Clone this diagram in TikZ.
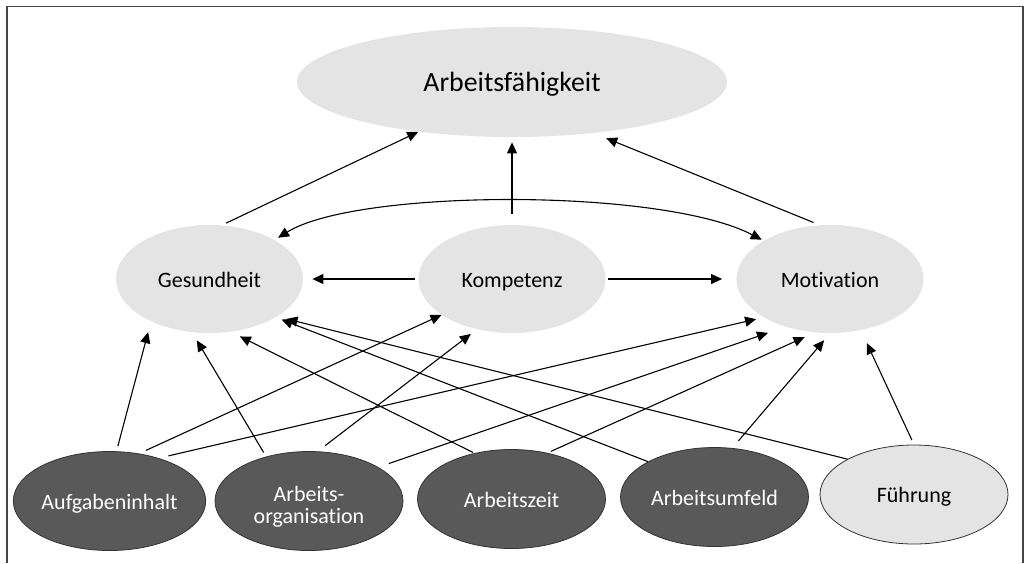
\documentclass[tikz,border=0pt]{standalone}
\usepackage{fontspec}
\setmainfont{Carlito}[Ligatures={NoCommon}]
\usetikzlibrary{shapes.geometric,arrows.meta}
\definecolor{ellLight}{RGB}{228,228,228}
\definecolor{ellDark}{RGB}{89,89,89}
\definecolor{frameGray}{RGB}{70,70,70}

\begin{document}
\begin{tikzpicture}[x=0.5pt,y=-0.5pt,
    >={Triangle[length=5.5pt,width=5pt]},
    wfEll/.style={ellipse,inner sep=0pt,fill=ellLight,align=center,font=\fontsize{11}{10.8}\selectfont,
        text height=10.8pt,text depth=2.4pt},
    wfTop/.style={wfEll,minimum width=215pt,minimum height=55pt,font=\fontsize{13.9}{16}\selectfont,
        text height=12.7pt,text depth=3pt},
    wfMid/.style={wfEll,minimum width=93.5pt,minimum height=54pt},
    wfLow/.style={wfEll,minimum width=94pt,minimum height=49.5pt,draw=black!80,line width=0.4pt},
    wfDark/.style={wfLow,fill=ellDark,text=white},
    wfArr/.style={->,line width=0.55pt},
]
\useasboundingbox (0,0) rectangle (1026,563);
% Rahmen (unten offen)
\draw[frameGray,line width=0.75pt] (7,563) -- (7,6.5) -- (1023,6.5) -- (1023,563);
% Zielgroesse
\node[wfTop] (arb) at (512,82) {Arbeitsfähigkeit};
% Individuelle Ebene
\node[wfMid] (ges) at (209.5,279) {Gesundheit};
\node[wfMid] (kom) at (512,279) {Kompetenz};
\node[wfMid] (mot) at (830,279) {Motivation};
% Arbeitsbedingungen
\node[wfDark] (aufg) at (109.5,501) {Aufgabeninhalt};
\node[wfDark,text height=24.7pt,text depth=2.4pt] (aorg) at (309,501) {Arbeits-\\organisation};
\node[wfDark] (azeit) at (511.5,499) {Arbeitszeit};
\node[wfDark] (aumf) at (714.5,497) {Arbeitsumfeld};
\node[wfLow] (fuehr) at (914,494.5) {Führung};
% Wirkung auf die Arbeitsfaehigkeit
\draw[wfArr,shorten <=2.3pt] (ges.77) -- (arb.-152);
\draw[wfArr,shorten <=5.5pt,shorten >=2.5pt] (kom.north) -- (arb.south);
\draw[wfArr,shorten <=3.2pt,shorten >=6.6pt] (mot.101) -- (arb.-32);
% Kompetenz wirkt seitlich
\draw[wfArr,shorten <=1.5pt,shorten >=4.5pt] (kom.west) -- (ges.east);
\draw[wfArr,shorten <=1pt,shorten >=7pt] (kom.east) -- (mot.west);
\draw[<->,line width=0.55pt,shorten <=2pt,shorten >=1pt] (ges.31) .. controls +(82,-51) and +(-102,-53) .. (mot.150);
% Arbeitsbedingungen -> Gesundheit
\draw[wfArr,shorten <=2.6pt,shorten >=5.5pt] (aufg.82) -- (ges.216);
\draw[wfArr,shorten <=2.4pt,shorten >=4.6pt] (aorg.134) -- (ges.252);
\draw[wfArr,shorten <=0.7pt,shorten >=5pt] (azeit.129) -- (ges.-68);
\draw[wfArr,shorten >=3pt] (aumf.152) -- (ges.-30);
\draw[wfArr,shorten >=4.7pt] (fuehr.152) -- (ges.-29);
% Arbeitsbedingungen -> Kompetenz
\draw[wfArr,shorten <=3.8pt] (aufg.58) -- (kom.-153);
\draw[wfArr,shorten <=4.6pt,shorten >=3.7pt] (aorg.80) -- (kom.-125);
% Arbeitsbedingungen -> Motivation
\draw[wfArr,shorten <=4.9pt,shorten >=3.8pt] (aufg.41) -- (mot.-150);
\draw[wfArr,shorten <=5.5pt,shorten >=9.2pt] (aorg.26) -- (mot.-133);
\draw[wfArr,shorten <=1.8pt,shorten >=5.5pt] (azeit.52) -- (mot.-106);
\draw[wfArr,shorten <=4.7pt,shorten >=4.5pt] (aumf.70) -- (mot.south);
\draw[wfArr,shorten <=2.5pt,shorten >=7pt] (fuehr.north) -- (mot.-59);
\end{tikzpicture}
\end{document}
